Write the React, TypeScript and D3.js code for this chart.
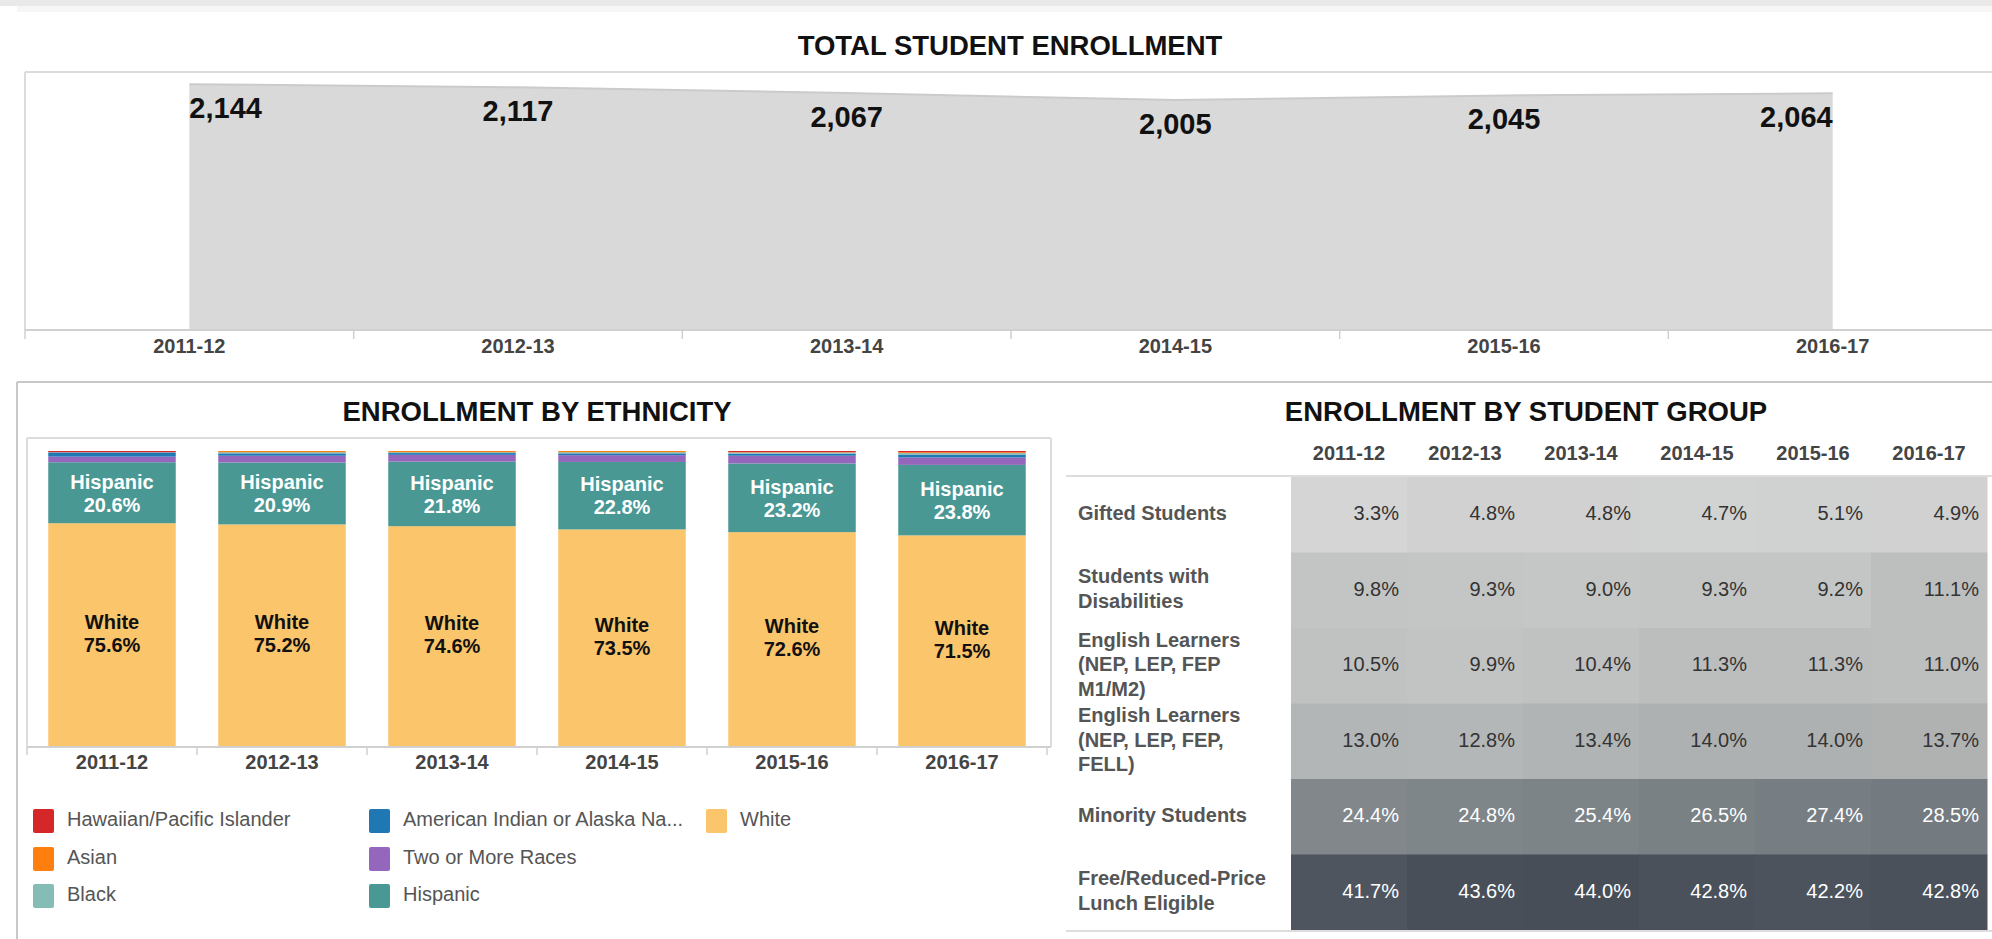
import React, { useEffect, useRef } from 'react';
import * as d3 from 'd3';

const years = ['2011-12', '2012-13', '2013-14', '2014-15', '2015-16', '2016-17'];
const totalEnrollment = [2144, 2117, 2067, 2005, 2045, 2064];

// ethnicity shares (%), stacked top -> bottom in legend order
const ethnicities = ['Hawaiian/Pacific Islander', 'Asian', 'Black', 'American Indian or Alaska Na...', 'Two or More Races', 'Hispanic', 'White'];
const ethnicityColors = ['#d62728', '#ff7f0e', '#86bcb6', '#1f77b4', '#9467bd', '#499894', '#fbc56c'];
const hawaiian = [0.4, 0, 0, 0, 0.4, 0.4];
const asian = [0, 0.4, 0.4, 0.4, 0.1, 0.3];
const black = [0.1, 0.4, 0.3, 0.4, 0.4, 0.5];
const americanIndian = [1.4, 0.8, 0.6, 0.6, 0.7, 1.0];
const twoOrMore = [1.9, 2.3, 2.3, 2.3, 2.6, 2.5];
const hispanic = [20.6, 20.9, 21.8, 22.8, 23.2, 23.8];
const white = [75.6, 75.2, 74.6, 73.5, 72.6, 71.5];

const groupLabels = [
  ['Gifted Students'],
  ['Students with', 'Disabilities'],
  ['English Learners', '(NEP, LEP, FEP', 'M1/M2)'],
  ['English Learners', '(NEP, LEP, FEP,', 'FELL)'],
  ['Minority Students'],
  ['Free/Reduced-Price', 'Lunch Eligible'],
];
const gifted = [3.3, 4.8, 4.8, 4.7, 5.1, 4.9];
const disabilities = [9.8, 9.3, 9.0, 9.3, 9.2, 11.1];
const englishM1M2 = [10.5, 9.9, 10.4, 11.3, 11.3, 11.0];
const englishFell = [13.0, 12.8, 13.4, 14.0, 14.0, 13.7];
const minority = [24.4, 24.8, 25.4, 26.5, 27.4, 28.5];
const lunch = [41.7, 43.6, 44.0, 42.8, 42.2, 42.8];

const FONT = '"Liberation Sans", Arial, Helvetica, sans-serif';

export default function App() {
  const ref = useRef<SVGSVGElement>(null);

  useEffect(() => {
    document.body.style.margin = '0';
    const svg = d3.select(ref.current);
    svg.selectAll('*').remove();
    svg.style('font-family', FONT);

    // page header strip
    svg.append('rect').attr('x', 0).attr('y', 0).attr('width', 1992).attr('height', 6).attr('fill', '#e9e9e9');
    svg.append('rect').attr('x', 17).attr('y', 6).attr('width', 1975).attr('height', 6).attr('fill', '#f6f6f6');

    // ---------- TOTAL STUDENT ENROLLMENT ----------
    const top = { left: 25, right: 1997, top: 72, bottom: 330 };
    svg.append('text').attr('x', 1010).attr('y', 48).attr('text-anchor', 'middle').attr('dominant-baseline', 'middle')
      .style('font-size', '27.5px').style('font-weight', 'bold').attr('fill', '#111').text('TOTAL STUDENT ENROLLMENT');

    const xBand = d3.scaleBand().domain(years).range([top.left, top.right]);
    const xPt = (d: string) => (xBand(d) as number) + xBand.bandwidth() / 2;
    const yTop = d3.scaleLinear().domain([0, 2250]).range([top.bottom, top.top]);

    const g1 = svg.append('g');
    g1.append('line').attr('x1', top.left).attr('x2', 1992).attr('y1', top.top).attr('y2', top.top).attr('stroke', '#dcdcdc').attr('stroke-width', 2);
    g1.append('line').attr('x1', top.left).attr('x2', top.left).attr('y1', top.top).attr('y2', top.bottom).attr('stroke', '#dcdcdc').attr('stroke-width', 2);

    const area = d3.area<number>().x((_, i) => xPt(years[i])).y0(top.bottom).y1(d => yTop(d));
    g1.append('path').datum(totalEnrollment).attr('d', area).attr('fill', '#d9d9d9');
    const line = d3.line<number>().x((_, i) => xPt(years[i])).y(d => yTop(d));
    g1.append('path').datum(totalEnrollment).attr('d', line).attr('fill', 'none').attr('stroke', '#cbcbcb').attr('stroke-width', 2);

    g1.selectAll('.vlab').data(totalEnrollment).join('text')
      .attr('x', (_, i) => xPt(years[i]))
      .attr('y', d => yTop(d) + 26)
      .attr('text-anchor', (_, i) => (i === 0 ? 'start' : i === years.length - 1 ? 'end' : 'middle'))
      .attr('dominant-baseline', 'middle')
      .style('font-size', '29px').style('font-weight', 'bold').attr('fill', '#111')
      .text(d => d3.format(',')(d));

    const axTop = g1.append('g').attr('transform', `translate(0,${top.bottom})`);
    axTop.append('line').attr('x1', top.left).attr('x2', 1992).attr('stroke', '#d0d0d0').attr('stroke-width', 2);
    axTop.selectAll('.tk').data(years).join('line')
      .attr('x1', d => xBand(d) as number).attr('x2', d => xBand(d) as number)
      .attr('y1', 0).attr('y2', 9).attr('stroke', '#d0d0d0').attr('stroke-width', 1.5);
    axTop.selectAll('.tl').data(years).join('text')
      .attr('x', d => xPt(d)).attr('y', 18).attr('text-anchor', 'middle').attr('dominant-baseline', 'middle')
      .style('font-size', '20px').style('font-weight', 'bold').attr('fill', '#444').text(d => d);

    // panel borders
    svg.append('line').attr('x1', 17).attr('x2', 1992).attr('y1', 382).attr('y2', 382).attr('stroke', '#c8c8c8').attr('stroke-width', 2);
    svg.append('line').attr('x1', 17).attr('x2', 17).attr('y1', 382).attr('y2', 939).attr('stroke', '#c8c8c8').attr('stroke-width', 2);

    // ---------- ENROLLMENT BY ETHNICITY ----------
    const eth = { left: 27, right: 1047, top: 438, barTop: 451, bottom: 747 };
    svg.append('text').attr('x', 537).attr('y', 414).attr('text-anchor', 'middle').attr('dominant-baseline', 'middle')
      .style('font-size', '27.5px').style('font-weight', 'bold').attr('fill', '#111').text('ENROLLMENT BY ETHNICITY');

    const g2 = svg.append('g');
    g2.append('line').attr('x1', eth.left).attr('x2', 1051).attr('y1', eth.top).attr('y2', eth.top).attr('stroke', '#dcdcdc').attr('stroke-width', 2);
    g2.append('line').attr('x1', eth.left).attr('x2', eth.left).attr('y1', eth.top).attr('y2', eth.bottom).attr('stroke', '#dcdcdc').attr('stroke-width', 2);
    g2.append('line').attr('x1', 1051).attr('x2', 1051).attr('y1', eth.top).attr('y2', eth.bottom).attr('stroke', '#dcdcdc').attr('stroke-width', 2);

    const xEth = d3.scaleBand().domain(years).range([eth.left, eth.right]).paddingInner(0.25).paddingOuter(0.125);
    const yEth = d3.scaleLinear().domain([0, 100]).range([eth.bottom, eth.barTop]);

    const series = [hawaiian, asian, black, americanIndian, twoOrMore, hispanic, white];
    const rows = years.map((y, i) => {
      const r: any = { year: y };
      ethnicities.forEach((e, k) => { r[e] = series[k][i]; });
      return r;
    });
    // stack bottom -> top: White first
    const stackKeys = [...ethnicities].reverse();
    const stacked = d3.stack().keys(stackKeys)(rows);
    const color = d3.scaleOrdinal<string, string>().domain(ethnicities).range(ethnicityColors);

    stacked.forEach(layer => {
      g2.append('g').attr('fill', color(layer.key)).selectAll('rect').data(layer).join('rect')
        .attr('x', d => xEth((d as any).data.year) as number)
        .attr('width', xEth.bandwidth())
        .attr('y', d => yEth(d[1]))
        .attr('height', d => Math.max(0, yEth(d[0]) - yEth(d[1])));
    });

    const labelled = [
      { key: 'White', fill: '#111', dy: 0 },
      { key: 'Hispanic', fill: '#fff', dy: 2 },
    ];
    labelled.forEach(({ key, fill, dy }) => {
      const layer = stacked.find(s => s.key === key)!;
      layer.forEach(d => {
        const cx = (xEth((d as any).data.year) as number) + xEth.bandwidth() / 2;
        const cy = (yEth(d[0]) + yEth(d[1])) / 2 + dy;
        const t = g2.append('text').attr('text-anchor', 'middle').style('font-size', '20px').style('font-weight', 'bold').attr('fill', fill);
        t.append('tspan').attr('x', cx).attr('y', cy - 11.5).attr('dominant-baseline', 'middle').text(key);
        t.append('tspan').attr('x', cx).attr('y', cy + 11.5).attr('dominant-baseline', 'middle').text(`${(d[1] - d[0]).toFixed(1)}%`);
      });
    });

    const axEth = g2.append('g').attr('transform', `translate(0,${eth.bottom})`);
    axEth.append('line').attr('x1', eth.left).attr('x2', 1051).attr('stroke', '#d0d0d0').attr('stroke-width', 2);
    const step = xEth.step();
    const tickXs = d3.range(years.length + 1).map(i => eth.left + i * step);
    axEth.selectAll('.tk').data(tickXs).join('line')
      .attr('x1', d => d).attr('x2', d => d).attr('y1', 0).attr('y2', 8).attr('stroke', '#d0d0d0').attr('stroke-width', 1.5);
    axEth.selectAll('.tl').data(years).join('text')
      .attr('x', d => (xEth(d) as number) + xEth.bandwidth() / 2).attr('y', 17)
      .attr('text-anchor', 'middle').attr('dominant-baseline', 'middle')
      .style('font-size', '20px').style('font-weight', 'bold').attr('fill', '#444').text(d => d);

    // legend (column-wise, 3 rows)
    const legendCols = [33, 369, 706];
    const legendRows = [821, 859, 896];
    const lg = svg.append('g');
    ethnicities.forEach((e, i) => {
      const cx = legendCols[Math.floor(i / 3)];
      const cy = legendRows[i % 3];
      lg.append('rect').attr('x', cx).attr('y', cy - 12).attr('width', 21).attr('height', 24).attr('rx', 2).attr('fill', color(e));
      lg.append('text').attr('x', cx + 34).attr('y', cy).attr('dominant-baseline', 'middle')
        .style('font-size', '20px').attr('fill', '#555').text(e);
    });

    // ---------- ENROLLMENT BY STUDENT GROUP ----------
    const tbl = { left: 1066, cellLeft: 1291, cellW: 116, top: 477, bottom: 930 };
    svg.append('text').attr('x', 1526).attr('y', 414).attr('text-anchor', 'middle').attr('dominant-baseline', 'middle')
      .style('font-size', '27.5px').style('font-weight', 'bold').attr('fill', '#111').text('ENROLLMENT BY STUDENT GROUP');

    const groupValues = [gifted, disabilities, englishM1M2, englishFell, minority, lunch];
    const xCol = d3.scaleBand().domain(years).range([tbl.cellLeft, tbl.cellLeft + tbl.cellW * years.length]);
    const yRow = d3.scaleBand<number>().domain(d3.range(groupLabels.length)).range([tbl.top, tbl.bottom]);
    const shade = d3.scaleLinear<string>().domain([3, 10, 14, 25, 44])
      .range(['#d6d6d6', '#c2c4c4', '#aeb1b1', '#7e8589', '#474e58']).clamp(true);

    const g3 = svg.append('g');
    g3.selectAll('.hd').data(years).join('text')
      .attr('x', d => (xCol(d) as number) + xCol.bandwidth() / 2).attr('y', 455)
      .attr('text-anchor', 'middle').attr('dominant-baseline', 'middle')
      .style('font-size', '20px').style('font-weight', 'bold').attr('fill', '#444').text(d => d);
    g3.append('line').attr('x1', tbl.left).attr('x2', 1992).attr('y1', 476).attr('y2', 476).attr('stroke', '#dddddd').attr('stroke-width', 2);

    groupValues.forEach((vals, r) => {
      const y0 = yRow(r) as number;
      const h = yRow.bandwidth();
      vals.forEach((v, c) => {
        const x0 = xCol(years[c]) as number;
        g3.append('rect').attr('x', x0).attr('y', y0).attr('width', xCol.bandwidth() + 0.5).attr('height', h + 0.5).attr('fill', shade(v));
        g3.append('text').attr('x', x0 + xCol.bandwidth() - 8).attr('y', y0 + h / 2)
          .attr('text-anchor', 'end').attr('dominant-baseline', 'middle')
          .style('font-size', '20px').attr('fill', v > 20 ? '#fff' : '#333').text(`${v.toFixed(1)}%`);
      });
      const lines = groupLabels[r];
      const t = g3.append('text').style('font-size', '20px').style('font-weight', 'bold').attr('fill', '#555');
      lines.forEach((ln, k) => {
        t.append('tspan').attr('x', 1078).attr('y', y0 + h / 2 + (k - (lines.length - 1) / 2) * 24.5)
          .attr('dominant-baseline', 'middle').text(ln);
      });
    });
    g3.append('line').attr('x1', tbl.left).attr('x2', 1992).attr('y1', 931).attr('y2', 931).attr('stroke', '#dddddd').attr('stroke-width', 2);
  }, []);

  return <svg ref={ref} width={1992} height={939} style={{ display: 'block', background: '#fff' }} />;
}
